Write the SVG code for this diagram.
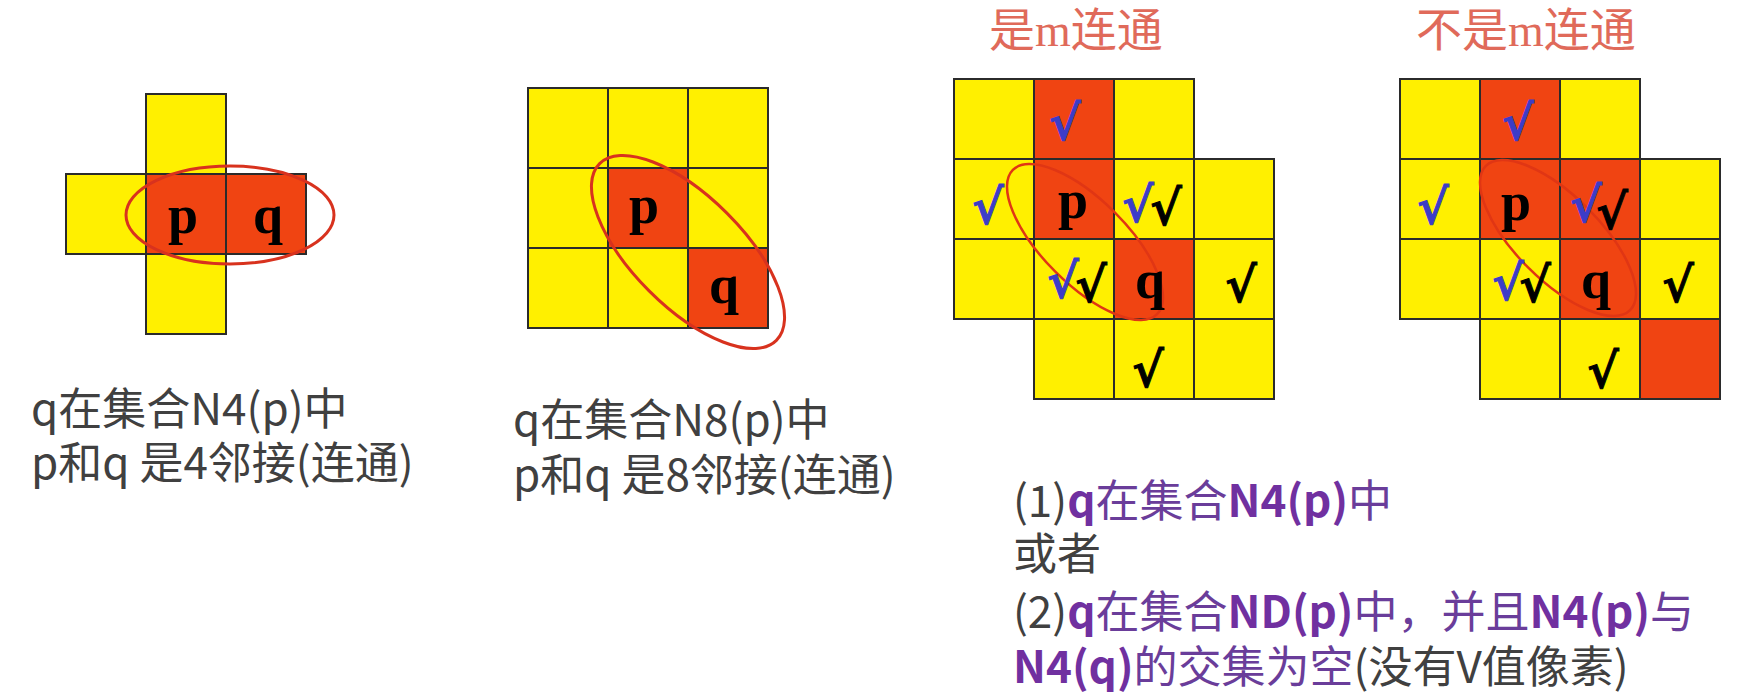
<svg xmlns="http://www.w3.org/2000/svg" width="1759" height="697" viewBox="0 0 1759 697">
<style>
.y{fill:#FFF000;stroke:#2b2b2b;stroke-width:2}
.r{fill:#F04412;stroke:#2b2b2b;stroke-width:2}
.pq{font-family:"Liberation Serif",serif;font-weight:bold;font-size:54px;fill:#000;text-anchor:middle}
.ell{fill:none;stroke:#D8321E;stroke-width:3}
.ell2{fill:none;stroke:#E03614;stroke-width:2.5}
.ck{font-family:"DejaVu Serif","Liberation Serif",serif;font-size:48px;font-weight:bold;text-anchor:middle;stroke-width:1}
.cb{fill:#3C3CC8;stroke:#3C3CC8}
.ckk{fill:#000;stroke:#000}
.t{font-family:"Noto Sans CJK SC","Noto Sans",sans-serif;font-size:44px;fill:#404040}
.pu{fill:#7030A0;font-weight:bold}
.pc{fill:#6A3D9A}
.title{font-family:"Liberation Serif","Noto Sans CJK SC",serif;font-size:46px;fill:#E06A5A}
</style>

<g id="grid-n4">
<rect class="y" x="146" y="94" width="80" height="80"/>
<rect class="y" x="66" y="174" width="80" height="80"/>
<rect class="r" x="146" y="174" width="80" height="80"/>
<rect class="r" x="226" y="174" width="80" height="80"/>
<rect class="y" x="146" y="254" width="80" height="80"/>
<ellipse class="ell" cx="230" cy="215" rx="104" ry="49"/>
<text class="pq" x="183" y="233">p</text>
<text class="pq" x="268" y="233">q</text>
</g>

<g id="grid-n8">
<rect class="y" x="528" y="88" width="80" height="80"/>
<rect class="y" x="608" y="88" width="80" height="80"/>
<rect class="y" x="688" y="88" width="80" height="80"/>
<rect class="y" x="528" y="168" width="80" height="80"/>
<rect class="r" x="608" y="168" width="80" height="80"/>
<rect class="y" x="688" y="168" width="80" height="80"/>
<rect class="y" x="528" y="248" width="80" height="80"/>
<rect class="y" x="608" y="248" width="80" height="80"/>
<rect class="r" x="688" y="248" width="80" height="80"/>
<ellipse class="ell" cx="688" cy="252" rx="125" ry="55" transform="rotate(45 688 252)"/>
<text class="pq" x="644" y="223">p</text>
<text class="pq" x="724" y="303">q</text>
</g>

<g id="grid-m-yes">
<text class="title" x="989" y="46">是m连通</text>
<rect class="y" x="954" y="79" width="80" height="80"/>
<rect class="r" x="1034" y="79" width="80" height="80"/>
<rect class="y" x="1114" y="79" width="80" height="80"/>
<rect class="y" x="954" y="159" width="80" height="80"/>
<rect class="r" x="1034" y="159" width="80" height="80"/>
<rect class="y" x="1114" y="159" width="80" height="80"/>
<rect class="y" x="1194" y="159" width="80" height="80"/>
<rect class="y" x="954" y="239" width="80" height="80"/>
<rect class="y" x="1034" y="239" width="80" height="80"/>
<rect class="r" x="1114" y="239" width="80" height="80"/>
<rect class="y" x="1194" y="239" width="80" height="80"/>
<rect class="y" x="1034" y="319" width="80" height="80"/>
<rect class="y" x="1114" y="319" width="80" height="80"/>
<rect class="y" x="1194" y="319" width="80" height="80"/>
<ellipse class="ell2" cx="1085" cy="242" rx="102" ry="42" transform="rotate(45 1085 242)"/>
<text class="pq" x="1073" y="218">p</text>
<text class="pq" x="1150" y="298">q</text>
<text class="ck cb" x="1065" y="140">√</text>
<text class="ck cb" x="988" y="224">√</text>
<text class="ck"><tspan class="cb" x="1138" y="222">√</tspan><tspan class="ckk" x="1166" y="225">√</tspan></text>
<text class="ck"><tspan class="cb" x="1063" y="298">√</tspan><tspan class="ckk" x="1091" y="302">√</tspan></text>
<text class="ck ckk" x="1241" y="302">√</text>
<text class="ck ckk" x="1148" y="387">√</text>
</g>

<g id="grid-m-no">
<text class="title" x="1416" y="46">不是m连通</text>
<rect class="y" x="1400" y="79" width="80" height="80"/>
<rect class="r" x="1480" y="79" width="80" height="80"/>
<rect class="y" x="1560" y="79" width="80" height="80"/>
<rect class="y" x="1400" y="159" width="80" height="80"/>
<rect class="r" x="1480" y="159" width="80" height="80"/>
<rect class="r" x="1560" y="159" width="80" height="80"/>
<rect class="y" x="1640" y="159" width="80" height="80"/>
<rect class="y" x="1400" y="239" width="80" height="80"/>
<rect class="y" x="1480" y="239" width="80" height="80"/>
<rect class="r" x="1560" y="239" width="80" height="80"/>
<rect class="y" x="1640" y="239" width="80" height="80"/>
<rect class="y" x="1480" y="319" width="80" height="80"/>
<rect class="y" x="1560" y="319" width="80" height="80"/>
<rect class="r" x="1640" y="319" width="80" height="80"/>
<ellipse class="ell2" cx="1558" cy="238" rx="102" ry="42" transform="rotate(45 1558 238)"/>
<text class="pq" x="1516" y="220">p</text>
<text class="pq" x="1596" y="298">q</text>
<text class="ck cb" x="1518" y="140">√</text>
<text class="ck cb" x="1433" y="224">√</text>
<text class="ck"><tspan class="cb" x="1586" y="222">√</tspan><tspan class="ckk" x="1612" y="229">√</tspan></text>
<text class="ck"><tspan class="cb" x="1508" y="300">√</tspan><tspan class="ckk" x="1535" y="302">√</tspan></text>
<text class="ck ckk" x="1678" y="302">√</text>
<text class="ck ckk" x="1603" y="388">√</text>
</g>

<g id="text-n4">
<text class="t" x="31" y="425">q在集合N4(p)中</text>
<text class="t" x="31" y="479">p和q 是4邻接(连通)</text>
</g>

<g id="text-n8">
<text class="t" x="513" y="436">q在集合N8(p)中</text>
<text class="t" x="513" y="491">p和q 是8邻接(连通)</text>
</g>

<g id="text-m">
<text class="t" x="1013" y="517">(1)<tspan class="pu">q</tspan><tspan class="pc">在集合</tspan><tspan class="pu">N4(p)</tspan><tspan class="pc">中</tspan></text>
<text class="t" x="1013" y="570">或者</text>
<text class="t" x="1013" y="628">(2)<tspan class="pu">q</tspan><tspan class="pc">在集合</tspan><tspan class="pu">ND(p)</tspan><tspan class="pc">中，并且</tspan><tspan class="pu">N4(p)</tspan><tspan class="pc">与</tspan></text>
<text class="t" x="1013" y="683"><tspan class="pu">N4(q)</tspan><tspan class="pc">的交集为空</tspan>(没有V值像素)</text>
</g>

<g id="connectors"/>
</svg>
